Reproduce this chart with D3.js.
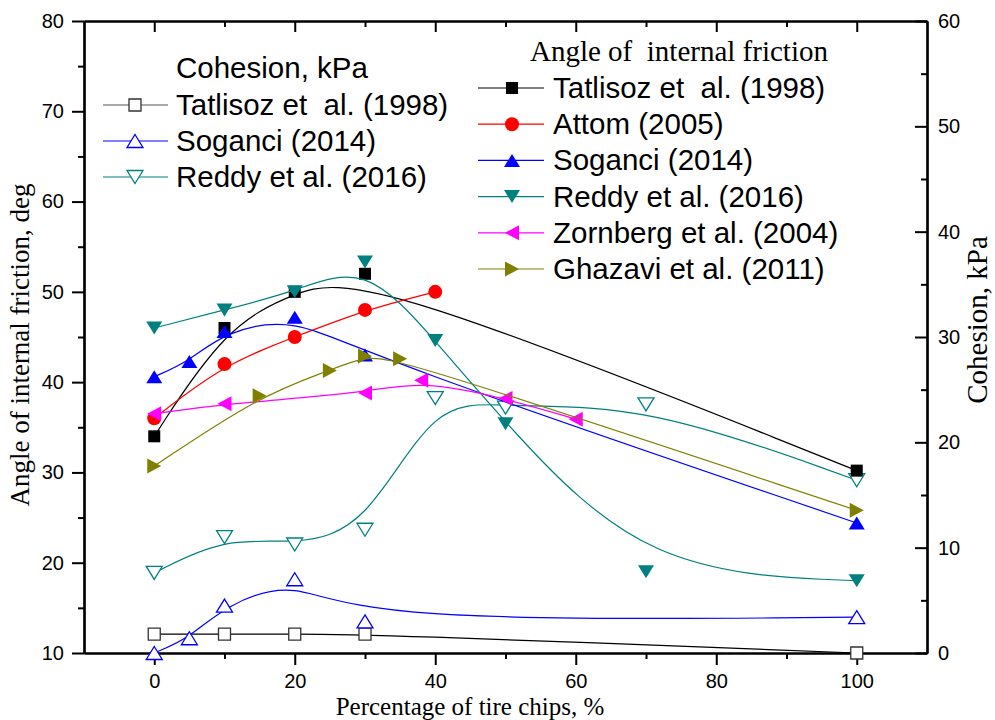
<!DOCTYPE html>
<html><head><meta charset="utf-8">
<script src="https://cdn.jsdelivr.net/npm/d3@7"></script>
<style>body{margin:0;background:#fff;} svg{display:block;} text{white-space:pre;}</style>
</head><body>
<svg id="c" width="995" height="720"></svg>
<script>
// ---------- DATA ----------
// Angle of internal friction (deg, left axis)
const tatAngleX = [0, 10, 20, 30, 100];
const tatAngleY = [34, 46, 50, 52, 30.2];
const attomX = [0, 10, 20, 30, 40];
const attomY = [36, 42, 45, 48, 50];
const sogAngleX = [0, 5, 10, 20, 30, 100];
const sogAngleY = [40.6, 42.3, 45.6, 47.2, 43, 24.4];
const reddyAngleX = [0, 10, 20, 30, 40, 50, 70, 100];
const reddyAngleY = [46, 48, 50, 53.3, 44.6, 35.4, 19, 18];
const zornX = [0, 10, 30, 38, 50, 60];
const zornY = [36.5, 37.6, 38.8, 40.2, 38.2, 35.9];
const ghazX = [0, 15, 25, 30, 35, 100];
const ghazY = [30.7, 38.5, 41.3, 42.9, 42.6, 25.8];
// Cohesion (kPa, right axis)
const tatCohX = [0, 10, 20, 30, 100];
const tatCohY = [1.8, 1.8, 1.8, 1.8, 0];
const sogCohX = [0, 5, 10, 20, 30, 100];
const sogCohY = [0, 1.4, 4.5, 7, 3, 3.4];
const reddyCohX = [0, 10, 20, 30, 40, 50, 70, 100];
const reddyCohY = [7.6, 11, 10.3, 11.7, 24.2, 23.3, 23.6, 16.4];
// Ticks & labels
const xMajor = [0, 20, 40, 60, 80, 100];
const xMinor = [10, 30, 50, 70, 90];
const yLMajor = [10, 20, 30, 40, 50, 60, 70, 80];
const yLMinor = [15, 25, 35, 45, 55, 65, 75];
const yRMajor = [0, 10, 20, 30, 40, 50, 60];
const yRMinor = [5, 15, 25, 35, 45, 55];
const xTitle = "Percentage of tire chips, %";
const yLTitle = "Angle of internal friction, deg";
const yRTitle = "Cohesion, kPa";
const legCohTitle = "Cohesion, kPa";
const legAngTitle = "Angle of  internal friction";

// ---------- SETUP ----------
const M = {left: 84, right: 927, top: 21, bottom: 653};
const x = d3.scaleLinear().domain([-10, 110]).range([M.left, M.right]);
const yL = d3.scaleLinear().domain([10, 80]).range([M.bottom, M.top]);
const yR = d3.scaleLinear().domain([0, 60]).range([M.bottom, M.top]);
const svg = d3.select('#c');
const sans = '"Liberation Sans", Arial, sans-serif';
const serif = '"Liberation Serif", "Times New Roman", serif';

function markerPath(type) {
  switch (type) {
    case 'square': { const a = 6; return `M${-a},${-a}H${a}V${a}H${-a}Z`; }
    case 'up': return `M0,-6.5L8,6.5L-8,6.5Z`;
    case 'down': return `M0,6.5L8,-6.5L-8,-6.5Z`;
    case 'left': return `M-7,0L7,-7.5L7,7.5Z`;
    case 'right': return `M7,0L-7,-7.5L-7,7.5Z`;
  }
}
function drawMarker(g, type, cx, cy, color, filled) {
  if (type === 'circle') {
    g.append('circle').attr('cx', cx).attr('cy', cy).attr('r', 7)
      .attr('fill', filled ? color : '#fff').attr('stroke', color).attr('stroke-width', filled ? 0 : 1.3);
  } else {
    g.append('path').attr('d', markerPath(type)).attr('transform', `translate(${cx},${cy})`)
      .attr('fill', filled ? color : '#fff').attr('stroke', color).attr('stroke-width', filled ? 0 : 1.3);
  }
}

const series = [
  // cohesion (open markers, right axis)
  {X: tatCohX, Y: tatCohY, ys: yR, color: '#000', mstroke: '#333', type: 'square', filled: false, label: 'Tatlisoz et  al. (1998)'},
  {X: sogCohX, Y: sogCohY, ys: yR, color: '#0000ff', type: 'up', filled: false, label: 'Soganci (2014)'},
  {X: reddyCohX, Y: reddyCohY, ys: yR, color: '#008080', type: 'down', filled: false, label: 'Reddy et al. (2016)'},
  // angle (filled markers, left axis)
  {X: tatAngleX, Y: tatAngleY, ys: yL, color: '#000', type: 'square', filled: true, label: 'Tatlisoz et  al. (1998)'},
  {X: attomX, Y: attomY, ys: yL, color: '#ff0000', type: 'circle', filled: true, label: 'Attom (2005)'},
  {X: sogAngleX, Y: sogAngleY, ys: yL, color: '#0000ff', type: 'up', filled: true, label: 'Soganci (2014)'},
  {X: reddyAngleX, Y: reddyAngleY, ys: yL, color: '#008080', type: 'down', filled: true, label: 'Reddy et al. (2016)'},
  {X: zornX, Y: zornY, ys: yL, color: '#ff00ff', type: 'left', filled: true, label: 'Zornberg et al. (2004)'},
  {X: ghazX, Y: ghazY, ys: yL, color: '#808000', type: 'right', filled: true, label: 'Ghazavi et al. (2011)'}
];

// ---------- AXES ----------
function styleAxis(g, fs) {
  g.selectAll('.domain').attr('stroke', '#000').attr('stroke-width', 2.2);
  g.selectAll('.tick line').attr('stroke', '#000').attr('stroke-width', 2);
  g.selectAll('.tick text').attr('font-family', sans).attr('font-size', fs).attr('fill', '#000');
}
const gx = svg.append('g').attr('transform', `translate(0,${M.bottom})`)
  .call(d3.axisBottom(x).tickValues(xMajor).tickSize(12).tickSizeOuter(0).tickPadding(9).tickFormat(d3.format('d')));
styleAxis(gx, 20);
const gxm = svg.append('g').attr('transform', `translate(0,${M.bottom})`)
  .call(d3.axisBottom(x).tickValues(xMinor).tickSize(6).tickSizeOuter(0).tickFormat(''));
styleAxis(gxm, 20);
const gt = svg.append('g').attr('transform', `translate(0,${M.top})`)
  .call(d3.axisBottom(x).tickValues(xMajor).tickSize(11).tickSizeOuter(0).tickFormat(''));
styleAxis(gt, 20);
const gtm = svg.append('g').attr('transform', `translate(0,${M.top})`)
  .call(d3.axisBottom(x).tickValues(xMinor).tickSize(6).tickSizeOuter(0).tickFormat(''));
styleAxis(gtm, 20);
const gl = svg.append('g').attr('transform', `translate(${M.left},0)`)
  .call(d3.axisLeft(yL).tickValues(yLMajor).tickSize(12).tickSizeOuter(0).tickPadding(8).tickFormat(d3.format('d')));
styleAxis(gl, 20);
const glm = svg.append('g').attr('transform', `translate(${M.left},0)`)
  .call(d3.axisLeft(yL).tickValues(yLMinor).tickSize(6).tickSizeOuter(0).tickFormat(''));
styleAxis(glm, 20);
const gr = svg.append('g').attr('transform', `translate(${M.right},0)`)
  .call(d3.axisRight(yR).tickValues(yRMajor).tickSize(-12).tickSizeOuter(0).tickPadding(11).tickFormat(d3.format('d')));
styleAxis(gr, 20);
const grm = svg.append('g').attr('transform', `translate(${M.right},0)`)
  .call(d3.axisRight(yR).tickValues(yRMinor).tickSize(-6).tickSizeOuter(0).tickFormat(''));
styleAxis(grm, 20);

// Axis titles
svg.append('text').attr('x', 470).attr('y', 714.5).attr('text-anchor', 'middle')
  .attr('font-family', serif).attr('font-size', 25).text(xTitle);
svg.append('text').attr('transform', 'translate(29,345) rotate(-90)').attr('text-anchor', 'middle')
  .attr('font-family', serif).attr('font-size', 27).text(yLTitle);
svg.append('text').attr('transform', 'translate(987,320) rotate(-90)').attr('text-anchor', 'middle')
  .attr('font-family', serif).attr('font-size', 29).text(yRTitle);

// ---------- SERIES ----------
const plot = svg.append('g');
series.forEach(s => {
  const idx = d3.range(s.X.length);
  const line = d3.line().x(i => x(s.X[i])).y(i => s.ys(s.Y[i])).curve(d3.curveBasis);
  plot.append('path').attr('d', line(idx)).attr('fill', 'none')
    .attr('stroke', s.color).attr('stroke-width', 1.2);
  const mg = plot.append('g');
  idx.forEach(i => drawMarker(mg, s.type, x(s.X[i]), s.ys(s.Y[i]), s.mstroke || s.color, s.filled));
});

// ---------- LEGENDS ----------
const leg1 = svg.append('g');
leg1.append('text').attr('x', 176).attr('y', 78).attr('font-family', sans).attr('font-size', 29.5).text(legCohTitle);
series.slice(0, 3).forEach((s, k) => {
  const cy = 105 + k * 36;
  leg1.append('line').attr('x1', 103).attr('x2', 168).attr('y1', cy).attr('y2', cy)
    .attr('stroke', s.color === '#000' ? '#555' : s.color).attr('stroke-width', 1.2);
  drawMarker(leg1, s.type, 135, cy, s.mstroke || s.color, false);
  leg1.append('text').attr('x', 176).attr('y', cy + 10).attr('font-family', sans).attr('font-size', 29.5).text(s.label);
});
const leg2 = svg.append('g');
leg2.append('text').attr('x', 530).attr('y', 61).attr('font-family', serif).attr('font-size', 29).text(legAngTitle);
series.slice(3).forEach((s, k) => {
  const cy = 88 + k * 36.2;
  leg2.append('line').attr('x1', 478).attr('x2', 544).attr('y1', cy).attr('y2', cy)
    .attr('stroke', s.color).attr('stroke-width', 1.2);
  drawMarker(leg2, s.type, 512, cy, s.color, true);
  leg2.append('text').attr('x', 553).attr('y', cy + 10).attr('font-family', sans).attr('font-size', 29.5).text(s.label);
});
</script>
</body></html>
